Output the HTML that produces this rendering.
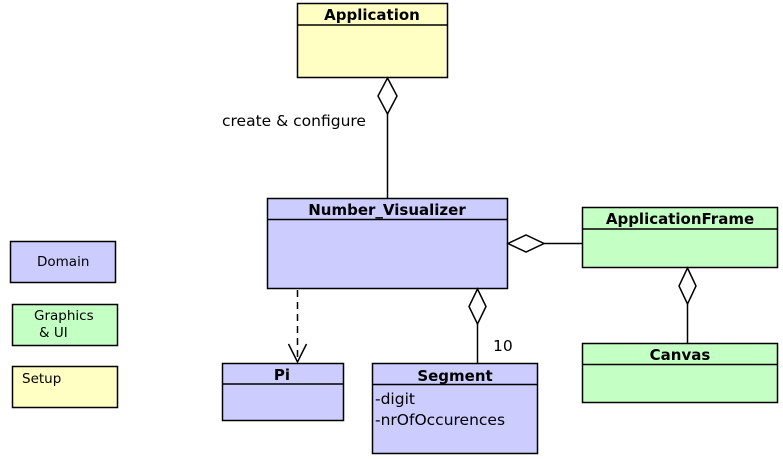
<!DOCTYPE html>
<html><head><meta charset="utf-8"><style>
html,body{margin:0;padding:0;background:#fff;}
svg{display:block;}
text{font-family:"DejaVu Sans","Liberation Sans",sans-serif;fill:#000;}
.b{font-weight:bold;font-size:15px;}
.n{font-size:15.5px;}
.s{font-size:13.5px;}
</style></head><body>
<svg width="783" height="459" viewBox="0 0 783 459" xmlns="http://www.w3.org/2000/svg">
<g stroke="#000" stroke-width="1.5">
<rect x="297.5" y="3.5" width="150" height="74" fill="#ffffc4"/>
<line x1="297.5" y1="25" x2="447.5" y2="25"/>
<rect x="267.5" y="198.5" width="240" height="90" fill="#ccccff"/>
<line x1="267.5" y1="219.5" x2="507.5" y2="219.5"/>
<rect x="222.5" y="363.5" width="121" height="57" fill="#ccccff"/>
<line x1="222.5" y1="384" x2="343.5" y2="384"/>
<rect x="372.5" y="363.5" width="165" height="90" fill="#ccccff"/>
<line x1="372.5" y1="384.5" x2="537.5" y2="384.5"/>
<rect x="582.5" y="207.5" width="195" height="60" fill="#c4ffc4"/>
<line x1="582.5" y1="229" x2="777.5" y2="229"/>
<rect x="582.5" y="343.5" width="195" height="59" fill="#c4ffc4"/>
<line x1="582.5" y1="364.5" x2="777.5" y2="364.5"/>
<rect x="10.5" y="241.5" width="105" height="41" fill="#ccccff"/>
<rect x="12.5" y="304.5" width="105" height="41" fill="#c4ffc4"/>
<rect x="12.5" y="366.5" width="105" height="41" fill="#ffffc4"/>
<line x1="387.5" y1="113" x2="387.5" y2="198"/>
<polygon points="387.5,78 397,96 387.5,114 378,96" fill="#fff"/>
<line x1="544" y1="243.5" x2="582" y2="243.5"/>
<polygon points="508,243.5 526,235 544,243.5 526,252" fill="#fff"/>
<line x1="687.5" y1="304" x2="687.5" y2="343"/>
<polygon points="687.5,268 696,286 687.5,304 679,286" fill="#fff"/>
<line x1="477.5" y1="324" x2="477.5" y2="363"/>
<polygon points="477.5,289 486,306.5 477.5,324 469,306.5" fill="#fff"/>
<line x1="297.5" y1="290" x2="297.5" y2="362" stroke-dasharray="7,5"/>
<polyline points="288.5,344 297.5,362 306.5,344" fill="none"/>
</g>
<text class="b" x="372" y="20" text-anchor="middle">Application</text>
<text class="b" x="387" y="215" text-anchor="middle">Number_Visualizer</text>
<text class="b" x="282" y="380" text-anchor="middle">Pi</text>
<text class="b" x="455" y="381" text-anchor="middle">Segment</text>
<text class="n" x="375" y="404">-digit</text>
<text class="n" x="375" y="425">-nrOfOccurences</text>
<text class="b" x="680" y="224" text-anchor="middle">ApplicationFrame</text>
<text class="b" x="680" y="360" text-anchor="middle">Canvas</text>
<text class="n" x="222" y="126">create &amp; configure</text>
<text class="n" x="493" y="351">10</text>
<text class="s" x="37" y="266">Domain</text>
<text class="s" x="34" y="320">Graphics</text>
<text class="s" x="39" y="337">&amp; UI</text>
<text class="s" x="22" y="383">Setup</text>
</svg>
</body></html>
